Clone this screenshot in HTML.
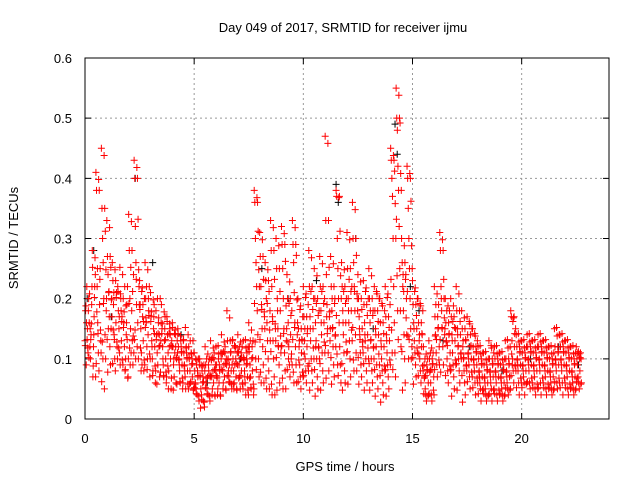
<!DOCTYPE html>
<html><head><meta charset="utf-8"><style>
body{margin:0;background:#fff}
svg{display:block;font-family:"Liberation Sans",sans-serif}
</style></head><body>
<svg id="chart" width="640" height="480">
<text x="343" y="32" text-anchor="middle" font-size="13">Day 049 of 2017, SRMTID for receiver ijmu</text>
<text x="345" y="471" text-anchor="middle" font-size="13">GPS time / hours</text>
<text transform="translate(18,238) rotate(-90)" text-anchor="middle" font-size="13">SRMTID / TECUs</text>
<g id="grid"></g><g id="marks"></g>
<rect x="85" y="58" width="524" height="361" fill="none" stroke="#000" stroke-width="1"/>
</svg>
<script>
const xTicks=[0,5,10,15,20];
const yTicks=[0,0.1,0.2,0.3,0.4,0.5,0.6];
const yTickLabels=["0","0.1","0.2","0.3","0.4","0.5","0.6"];
const binStarts=[0,0.25,0.5,0.75,1,1.25,1.5,1.75,2,2.25,2.5,2.75,3,3.25,3.5,3.75,4,4.25,4.5,4.75,5,5.25,5.5,5.75,6,6.25,6.5,6.75,7,7.25,7.5,7.75,8,8.25,8.5,8.75,9,9.25,9.5,9.75,10,10.25,10.5,10.75,11,11.25,11.5,11.75,12,12.25,12.5,12.75,13,13.25,13.5,13.75,14,14.25,14.5,14.75,15,15.25,15.5,15.75,16,16.25,16.5,16.75,17,17.25,17.5,17.75,18,18.25,18.5,18.75,19,19.25,19.5,19.75,20,20.25,20.5,20.75,21,21.25,21.5,21.75,22,22.25,22.5];
const redValues=[
[.13,.18,.09,.22,.15,.11,.2,.16,.12],[.1,.14,.19,.28,.07,.12,.17,.22,.24],[.41,.38,.22,.16,.11,.08,.19,.25,.13],[.45,.35,.3,.26,.2,.05,.14,.1,.18],
[.33,.27,.24,.21,.17,.12,.09,.15,.2],[.26,.23,.19,.14,.1,.08,.16,.21,.12],[.22,.18,.15,.11,.09,.2,.13,.17,.24],[.2,.16,.12,.08,.1,.14,.19,.22,.07],
[.34,.28,.2,.15,.11,.18,.13,.09,.24],[.43,.4,.32,.26,.19,.12,.16,.1,.22],[.23,.19,.15,.11,.09,.17,.13,.08,.2],[.26,.2,.16,.12,.1,.14,.18,.22,.07],
[.21,.17,.13,.1,.08,.15,.19,.12,.06],[.18,.14,.11,.09,.16,.12,.07,.2,.13],[.19,.15,.12,.09,.07,.13,.17,.1,.06],[.17,.14,.11,.08,.12,.15,.1,.05,.13],
[.16,.12,.09,.07,.11,.14,.06,.1,.13],[.15,.12,.1,.08,.06,.13,.11,.09,.05],[.13,.11,.09,.07,.05,.12,.1,.08,.14],[.12,.1,.08,.06,.11,.09,.07,.13,.05],
[.11,.08,.06,.05,.09,.04,.07,.1,.03],[.1,.07,.05,.04,.08,.06,.03,.09,.02],[.12,.09,.06,.05,.07,.04,.08,.1,.03],[.13,.1,.07,.05,.08,.06,.11,.04,.09],
[.12,.09,.07,.05,.1,.06,.08,.04,.11],[.14,.11,.08,.06,.09,.07,.12,.05,.1],[.18,.13,.1,.07,.09,.06,.11,.08,.05],[.13,.1,.08,.06,.09,.12,.07,.05,.11],
[.14,.11,.09,.07,.05,.1,.08,.12,.06],[.13,.1,.08,.06,.04,.09,.11,.07,.12],[.16,.12,.09,.07,.05,.1,.08,.13,.04],[.38,.36,.3,.26,.22,.18,.14,.1,.07],
[.31,.27,.22,.19,.15,.12,.09,.06,.17],[.26,.23,.2,.16,.13,.1,.08,.05,.18],[.33,.28,.22,.17,.13,.1,.07,.04,.15],[.3,.25,.2,.15,.12,.09,.06,.18,.11],
[.32,.29,.25,.2,.15,.11,.08,.05,.13],[.24,.2,.16,.12,.09,.07,.14,.1,.18],[.33,.29,.26,.21,.16,.12,.09,.06,.14],[.2,.15,.12,.09,.07,.05,.11,.13,.17],
[.22,.17,.13,.1,.08,.06,.12,.15,.19],[.28,.22,.17,.13,.1,.08,.06,.15,.2],[.25,.2,.16,.13,.1,.07,.05,.12,.18],[.27,.22,.18,.14,.11,.08,.06,.16,.2],
[.47,.33,.24,.19,.15,.11,.08,.17,.13],[.27,.22,.18,.15,.12,.09,.07,.2,.14],[.38,.37,.3,.25,.2,.16,.12,.09,.06],[.26,.22,.18,.14,.11,.08,.06,.16,.2],
[.31,.25,.2,.16,.13,.1,.07,.18,.22],[.36,.3,.26,.22,.18,.14,.11,.08,.2],[.24,.2,.17,.14,.11,.09,.07,.15,.12],[.23,.19,.16,.13,.1,.08,.06,.14,.2],
[.25,.2,.16,.13,.1,.08,.06,.18,.12],[.22,.18,.15,.12,.09,.07,.05,.14,.2],[.2,.16,.13,.1,.08,.06,.04,.12,.18],[.22,.17,.14,.11,.09,.07,.05,.13,.19],
[.45,.43,.4,.37,.3,.22,.16,.11,.07],[.55,.5,.48,.42,.38,.32,.25,.18,.12],[.3,.26,.22,.18,.14,.1,.06,.24,.2],[.42,.4,.35,.3,.25,.2,.15,.1,.12],
[.23,.19,.16,.13,.11,.09,.07,.15,.2],[.2,.16,.13,.1,.08,.06,.12,.14,.18],[.12,.09,.07,.05,.04,.03,.08,.1,.06],[.13,.1,.08,.06,.04,.03,.09,.11,.07],
[.22,.17,.14,.11,.09,.07,.15,.19,.12],[.31,.28,.22,.18,.15,.12,.09,.2,.14],[.2,.16,.13,.1,.08,.06,.14,.18,.11],[.2,.17,.14,.11,.09,.07,.05,.13,.15],
[.22,.18,.15,.12,.1,.08,.06,.14,.11],[.18,.15,.12,.1,.08,.06,.04,.13,.09],[.17,.14,.11,.09,.07,.05,.12,.1,.15],[.15,.12,.1,.08,.06,.04,.11,.09,.13],
[.12,.1,.08,.06,.05,.03,.09,.07,.11],[.11,.09,.07,.05,.04,.03,.08,.06,.1],[.13,.1,.08,.06,.05,.03,.09,.07,.11],[.12,.1,.08,.06,.04,.03,.09,.07,.11],
[.11,.09,.07,.05,.04,.03,.08,.06,.1],[.13,.1,.08,.06,.05,.04,.09,.07,.12],[.18,.17,.13,.1,.08,.06,.12,.09,.15],[.14,.12,.1,.08,.06,.04,.11,.09,.13],
[.13,.11,.09,.07,.06,.04,.1,.08,.12],[.14,.12,.1,.08,.06,.05,.11,.09,.13],[.13,.11,.09,.07,.05,.04,.1,.08,.12],[.14,.12,.1,.08,.06,.04,.11,.09,.13],
[.13,.11,.09,.07,.05,.04,.1,.08,.12],[.12,.1,.08,.06,.05,.04,.09,.07,.11],[.15,.12,.1,.08,.06,.05,.11,.09,.14],[.14,.12,.1,.08,.06,.04,.11,.09,.13],
[.13,.11,.09,.07,.05,.04,.1,.08,.12],[.12,.1,.08,.06,.05,.04,.09,.07,.11],[.12,.1,.09,.07,.06,.05,.08,.11,.1]];
const blackTimes=[0.1,0.4,1.2,2.3,3.1,4.4,5.6,7.1,8.1,9.3,10.6,11.5,11.6,12.4,13.2,14.2,14.3,14.9,15.3,16.4,17.6,19.1,20.4,21.7,22.6];
const blackValues=[0.2,0.28,0.17,0.4,0.26,0.14,0.06,0.1,0.25,0.2,0.23,0.39,0.36,0.3,0.15,0.49,0.44,0.22,0.18,0.13,0.12,0.08,0.1,0.12,0.09];
const X0=85,X1=609,Y0=419,Y1=58,XMAX=24,YMAX=0.6;
function sx(t){return X0+(X1-X0)*t/XMAX;}
function sy(v){return Y0-(Y0-Y1)*v/YMAX;}
const NS="http://www.w3.org/2000/svg";
const grid=document.getElementById('grid'),marks=document.getElementById('marks');
function mk(tag,attrs,parent){const e=document.createElementNS(NS,tag);for(const k in attrs)e.setAttribute(k,attrs[k]);parent.appendChild(e);return e;}
xTicks.forEach((t,i)=>{
  const x=sx(t);
  if(t>0){const g=mk('line',{x1:x,x2:x,y1:Y1,y2:Y0,stroke:'#999','stroke-dasharray':'2,3'},grid);
  
  }
  const tk=mk('path',{d:`M${x},${Y0}v-6M${x},${Y1}v6`,stroke:'#000'},grid);
  
  
  const l=mk('text',{x:x,y:443,'text-anchor':'middle','font-size':'13'},grid);l.textContent=String(t);
  
  
});
yTicks.forEach((v,i)=>{
  const y=sy(v);
  if(v>0&&v<YMAX){const g=mk('line',{x1:X0,x2:X1,y1:y,y2:y,stroke:'#999','stroke-dasharray':'2,3'},grid);
  
  }
  const tk=mk('path',{d:`M${X0},${y}h6M${X1},${y}h-6`,stroke:'#000'},grid);
  
  
  const l=mk('text',{x:72,y:y+5,'text-anchor':'end','font-size':'13'},grid);l.textContent=yTickLabels[i];
  
  
});
function plus(t,v,color,name){
  const x=sx(t),y=sy(v);
  const p=mk('path',{d:`M${x-3.5},${y}h7M${x},${y-3.5}v7`,stroke:color,'stroke-width':'1'},marks);
  
  
}
blackTimes.forEach((t,i)=>plus(t,blackValues[i],'#000','black-point'));
binStarts.forEach((b,i)=>{
  const vals=redValues[i];
  vals.forEach((v,j)=>{
    plus(b+0.25*j/vals.length,v,'#f00','red-point');
    plus(b+0.25*((j+4.5)%vals.length)/vals.length,v+0.012*((j%3)-1),'#f00','red-point');
  });
});
</script>
</body></html>
